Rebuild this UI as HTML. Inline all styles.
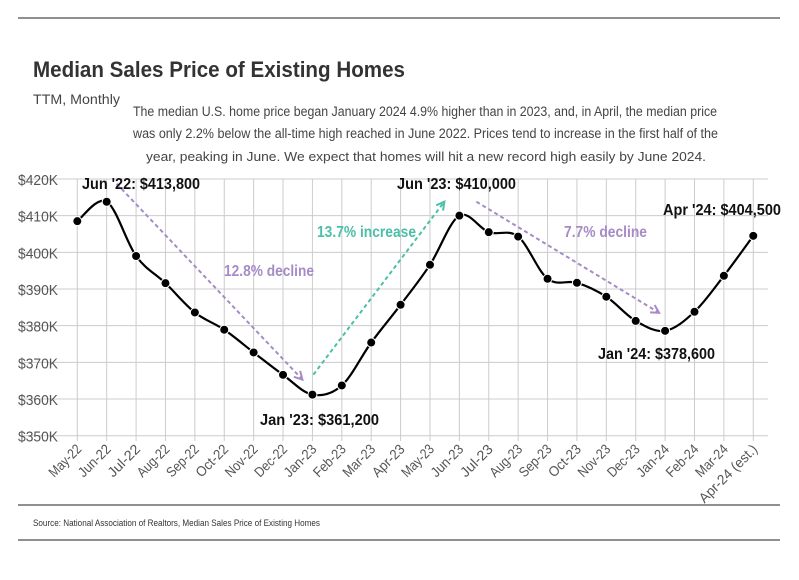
<!DOCTYPE html>
<html><head><meta charset="utf-8"><style>
body{margin:0;background:#fff;width:799px;height:575px;overflow:hidden;font-family:"Liberation Sans Narrow","Liberation Sans",sans-serif;}
svg text{font-family:"Liberation Sans Narrow","Liberation Sans",sans-serif;}
</style></head><body>
<svg width="799" height="575">
<line x1="18" y1="18" x2="780" y2="18" stroke="#222" stroke-width="1"/>
<text x="33" y="77" font-size="22" font-weight="bold" fill="#333" textLength="372" lengthAdjust="spacingAndGlyphs">Median Sales Price of Existing Homes</text>
<text x="33" y="104" font-size="14" fill="#444" textLength="87" lengthAdjust="spacingAndGlyphs">TTM, Monthly</text>
<g font-size="13.5" fill="#444">
<text x="133" y="116" textLength="584" lengthAdjust="spacingAndGlyphs">The median U.S. home price began January 2024 4.9% higher than in 2023, and, in April, the median price</text>
<text x="133" y="138" textLength="585" lengthAdjust="spacingAndGlyphs">was only 2.2% below the all-time high reached in June 2022. Prices tend to increase in the first half of the</text>
<text x="146" y="161" font-size="13" textLength="560" lengthAdjust="spacingAndGlyphs">year, peaking in June. We expect that homes will hit a new record high easily by June 2024.</text>
</g>
<g id="grid"></g><g id="axes"></g><g id="annot"></g><g id="series"></g>
<line x1="18" y1="505" x2="780" y2="505" stroke="#222"/>
<text x="33" y="526" font-size="9" fill="#333" textLength="287" lengthAdjust="spacingAndGlyphs">Source:  National Association of Realtors, Median Sales Price of Existing Homes</text>
<line x1="18" y1="540" x2="780" y2="540" stroke="#222"/>
</svg>
<script>
const categories=["May-22","Jun-22","Jul-22","Aug-22","Sep-22","Oct-22","Nov-22","Dec-22","Jan-23","Feb-23","Mar-23","Apr-23","May-23","Jun-23","Jul-23","Aug-23","Sep-23","Oct-23","Nov-23","Dec-23","Jan-24","Feb-24","Mar-24","Apr-24 (est.)"];
const prices=[408.5,413.8,399.0,391.6,383.6,378.9,372.7,366.6,361.2,363.7,375.4,385.7,396.6,410.0,405.5,404.3,392.8,391.7,387.9,381.3,378.6,383.8,393.6,404.5];
const yTicks=[350,360,370,380,390,400,410,420];
const yTickLabels=["$350K","$360K","$370K","$380K","$390K","$400K","$410K","$420K"];
const NS="http://www.w3.org/2000/svg";
const X=i=>77.3+i*29.39, Y=v=>179+(420-v)*3.667;
function mk(p,t,a){const e=document.createElementNS(NS,t);for(const k in a)e.setAttribute(k,a[k]);document.getElementById(p).appendChild(e);return e;}
yTicks.forEach((v,i)=>{
 const l=mk("grid","line",{x1:20,x2:768,y1:Y(v),y2:Y(v),stroke:"#ccc"});
 
 
 const t=mk("axes","text",{x:18,y:Y(v)+6,"font-size":15,fill:"#555",textLength:40,lengthAdjust:"spacingAndGlyphs"});t.textContent=yTickLabels[i];
 
 
});
categories.forEach((c,i)=>{
 const l=mk("grid","line",{x1:X(i),x2:X(i),y1:179,y2:441,stroke:"#ccc"});
 
 
 const t=mk("axes","text",{x:X(i)+5,y:450,"font-size":14,fill:"#555","text-anchor":"end",transform:`rotate(-45 ${X(i)+5} 450)`});t.textContent=c;
 t.setAttribute('textLength',Math.min(c.length*6.6,76));
 t.setAttribute('lengthAdjust','spacingAndGlyphs');
 
 
});
const pts=prices.map((v,i)=>[X(i),Y(v)]);
let d=`M${pts[0][0]},${pts[0][1]}`;
for(let i=0;i<pts.length-1;i++){const p0=pts[i-1]||pts[i],p1=pts[i],p2=pts[i+1],p3=pts[i+2]||p2;
 d+=` C${p1[0]+(p2[0]-p0[0])/6},${p1[1]+(p2[1]-p0[1])/6} ${p2[0]-(p3[0]-p1[0])/6},${p2[1]-(p3[1]-p1[1])/6} ${p2[0]},${p2[1]}`;}
const line=mk("series","path",{d:d,fill:"none",stroke:"#000","stroke-width":2.2});


pts.forEach(p=>{const c=mk("series","circle",{cx:p[0],cy:p[1],r:4.5,fill:"#000",stroke:"#fff","stroke-width":1});
 
 });
function arrow(i1,v1,i2,v2,dx1,dy1,dx2,dy2,col,name){
 const x1=X(i1)+dx1,y1=Y(v1)+dy1,x2=X(i2)+dx2,y2=Y(v2)+dy2;
 const l=mk("annot","line",{x1,y1,x2,y2,stroke:col,"stroke-width":2,"stroke-dasharray":"4,3"});
 
 
 const a=Math.atan2(y2-y1,x2-x1),s=9;
 const h=mk("annot","path",{d:`M${x2-s*Math.cos(a-0.5)},${y2-s*Math.sin(a-0.5)} L${x2},${y2} L${x2-s*Math.cos(a+0.5)},${y2-s*Math.sin(a+0.5)}`,fill:"none",stroke:col,"stroke-width":2});
 
 
}
arrow(1,413.8,8,361.2,10,-18,-10,-15,"#a68bc6","decline-arrow-1");
arrow(8,361.2,13,410,1,-20,-15,-14,"#4bbfa8","increase-arrow");
arrow(13,410,20,378.6,17,-14,-6,-18,"#a68bc6","decline-arrow-2");
const labels=[["Jun '22: $413,800",82,189,"#111","peak-label-jun22",118],["Jan '23: $361,200",260,425,"#111","trough-label-jan23",119],["Jun '23: $410,000",397,189,"#111","peak-label-jun23",119],["Jan '24: $378,600",598,359,"#111","trough-label-jan24",117],["Apr '24: $404,500",663,215,"#111","label-apr24",118],["12.8% decline",224,276,"#a68bc6","decline-label-1",90],["13.7% increase",317,237,"#4bbfa8","increase-label",99],["7.7% decline",564,237,"#a68bc6","decline-label-2",83]];
labels.forEach(L=>{const t=mk("annot","text",{x:L[1],y:L[2],"font-size":16,"font-weight":"bold",fill:L[3],textLength:L[5],lengthAdjust:"spacingAndGlyphs"});t.textContent=L[0];
 
 });
</script>
</body></html>
